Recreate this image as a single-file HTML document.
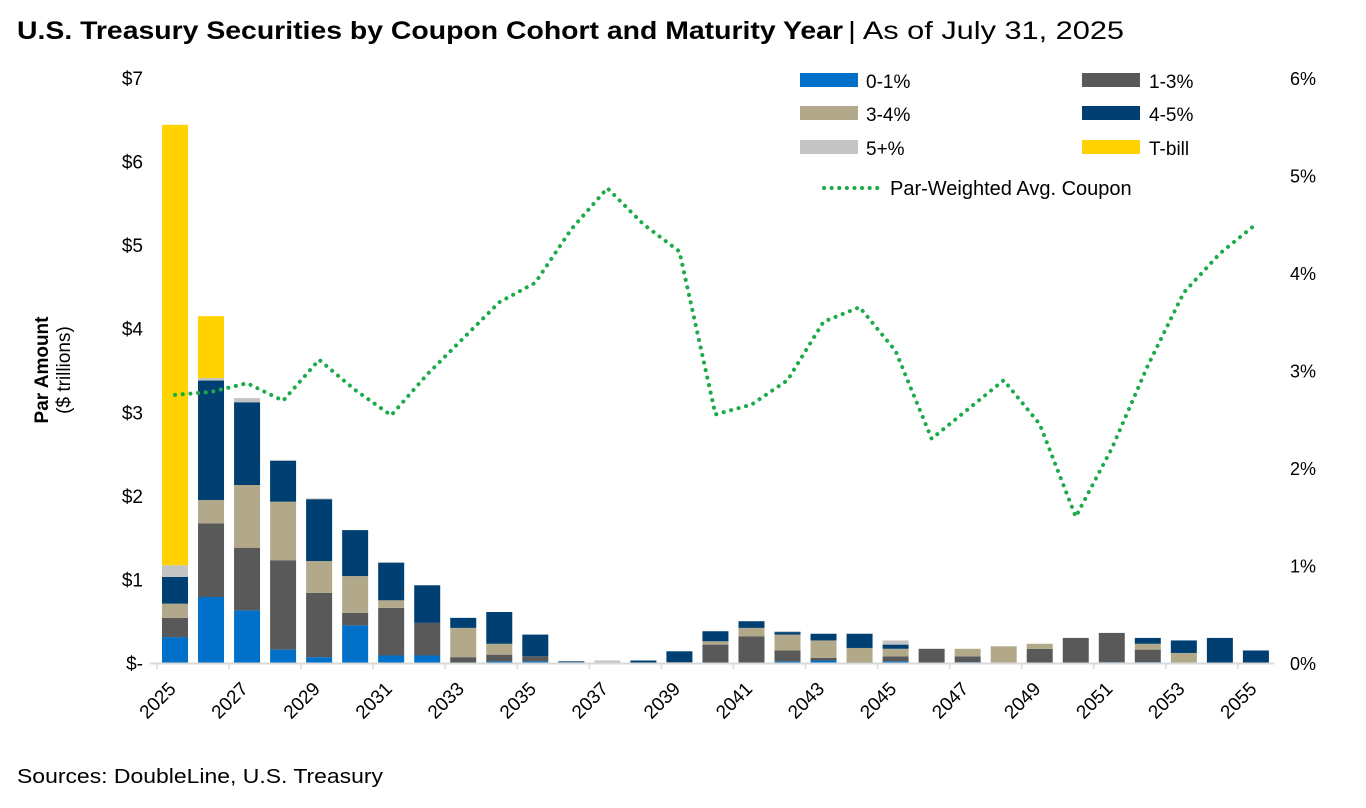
<!DOCTYPE html>
<html><head><meta charset="utf-8"><style>
body{margin:0;background:#fff;}
svg{display:block;font-family:"Liberation Sans",sans-serif;}
</style></head><body>
<svg id="chart" width="1366" height="808" viewBox="0 0 1366 808">
<text x="17" y="39" font-size="25" font-weight="bold" textLength="826" lengthAdjust="spacingAndGlyphs">U.S. Treasury Securities by Coupon Cohort and Maturity Year</text>
<text x="848" y="39" font-size="25" textLength="276" lengthAdjust="spacingAndGlyphs">| As of July 31, 2025</text>
<text x="17" y="783" font-size="20" textLength="366" lengthAdjust="spacingAndGlyphs">Sources: DoubleLine, U.S. Treasury</text>
<g transform="translate(48,370) rotate(-90)">
<text x="0" y="0" font-size="19" font-weight="bold" text-anchor="middle">Par Amount</text>
<text x="0" y="22" font-size="19" text-anchor="middle">($ trillions)</text>
</g>
<g id="bars"></g>
<g id="axes"></g>
<g id="line"></g>
<g id="legend">
<rect x="800" y="73" width="58" height="14" fill="#0070C8"/>
<text x="866" y="88" font-size="19">0-1%</text>
<rect x="1082" y="73" width="58" height="14" fill="#595959"/>
<text x="1149" y="88" font-size="19">1-3%</text>
<rect x="800" y="106" width="58" height="14" fill="#B2A98B"/>
<text x="866" y="121" font-size="19">3-4%</text>
<rect x="1082" y="106" width="58" height="14" fill="#003F72"/>
<text x="1149" y="121" font-size="19">4-5%</text>
<rect x="800" y="140" width="58" height="14" fill="#C4C4C4"/>
<text x="866" y="155" font-size="19">5+%</text>
<rect x="1082" y="140" width="58" height="14" fill="#FFD200"/>
<text x="1149" y="155" font-size="19">T-bill</text>
<line x1="824" y1="188" x2="882" y2="188" stroke="#1DAA4A" stroke-width="4" stroke-dasharray="0.1 7.5" stroke-linecap="round"/>
<text x="890" y="195" font-size="20">Par-Weighted Avg. Coupon</text>
</g>
</svg>
<script>
const years = [2025,2026,2027,2028,2029,2030,2031,2032,2033,2034,2035,2036,2037,2038,2039,2040,2041,2042,2043,2044,2045,2046,2047,2048,2049,2050,2051,2052,2053,2054,2055];
const c01 = [0.31,0.79,0.63,0.16,0.07,0.45,0.09,0.09,0,0.02,0.02,0,0,0,0,0,0,0.02,0.03,0,0.02,0,0.01,0,0,0,0.01,0.01,0,0,0];
const c13 = [0.23,0.88,0.75,1.07,0.77,0.15,0.57,0.39,0.07,0.08,0.06,0.01,0,0,0.01,0.22,0.32,0.13,0.03,0.01,0.06,0.17,0.07,0,0.17,0.30,0.35,0.15,0,0,0];
const c34 = [0.17,0.28,0.75,0.70,0.38,0.44,0.09,0,0.35,0.13,0,0,0,0,0,0.04,0.10,0.19,0.21,0.17,0.09,0,0.09,0.20,0.06,0,0,0.07,0.12,0,0];
const c45 = [0.32,1.43,0.99,0.49,0.74,0.55,0.45,0.45,0.12,0.38,0.26,0.01,0,0.03,0.13,0.12,0.08,0.03,0.08,0.17,0.05,0,0,0,0,0,0,0.07,0.15,0.30,0.15];
const c5p = [0.14,0.03,0.05,0.01,0.01,0,0.01,0,0,0,0,0,0.03,0,0,0,0,0.01,0,0,0.05,0,0,0,0,0,0,0,0,0,0];
const tbill = [5.27,0.74,0,0,0,0,0,0,0,0,0,0,0,0,0,0,0,0,0,0,0,0,0,0,0,0,0,0,0,0,0];
const coupon = [2.75,2.78,2.87,2.69,3.11,2.80,2.54,2.96,3.33,3.70,3.90,4.45,4.87,4.50,4.22,2.55,2.65,2.90,3.50,3.65,3.20,2.30,2.60,2.90,2.45,1.50,2.20,3.05,3.80,4.20,4.50];
const leftTicks = ['$-','$1','$2','$3','$4','$5','$6','$7'];
const rightTicks = ['0%','1%','2%','3%','4%','5%','6%'];

const NS='http://www.w3.org/2000/svg';
const y0=663, yTop=78, x0=175, step=36.03, bw=26;
const yL = v => y0 - v/7*(y0-yTop);
const yR = v => y0 - v/6*(y0-yTop);
const xC = i => x0 + i*step;
function mk(tag, attrs, parent){const e=document.createElementNS(NS,tag);for(const k in attrs)e.setAttribute(k,attrs[k]);parent.appendChild(e);return e;}
const bars=document.getElementById('bars'), axes=document.getElementById('axes'), line=document.getElementById('line');
const series=[[c01,'#0070C8','0-1'],[c13,'#595959','1-3'],[c34,'#B2A98B','3-4'],[c45,'#003F72','4-5'],[c5p,'#C4C4C4','5plus'],[tbill,'#FFD200','tbill']];
years.forEach((yr,i)=>{
  let cum=0;
  series.forEach(([arr,col,nm])=>{
    const v=arr[i]; if(v<=0) return;
    const r=mk('rect',{x:xC(i)-bw/2,y:yL(cum+v),width:bw,height:yL(cum)-yL(cum+v),fill:col},bars);
    
    
    cum+=v;
  });
});
const base=mk('line',{x1:150,y1:y0+0.5,x2:1274,y2:y0+0.5,stroke:'#D9D9D9','stroke-width':2},axes);


for(let i=0;i<=years.length;i+=2){
  const tx=xC(i)-step/2;
  const t=mk('line',{x1:tx,y1:y0,x2:tx,y2:y0+6,stroke:'#D9D9D9','stroke-width':1.5},axes);
  
  
}
years.forEach((yr,i)=>{
  if(i%2) return;
  const x=xC(i)+2, y=y0+27;
  const t=mk('text',{x:x,y:y,'font-size':19,'text-anchor':'end',transform:`rotate(-45 ${x} ${y})`},axes);
  t.textContent=yr;
  
  
});
leftTicks.forEach((lb,i)=>{
  const t=mk('text',{x:143,y:yL(i)+7,'font-size':19,'text-anchor':'end'},axes);
  t.textContent=lb;
  
  
});
rightTicks.forEach((lb,i)=>{
  const t=mk('text',{x:1290,y:yR(i)+7,'font-size':18},axes);
  t.textContent=lb;
  
  
});
const pts=coupon.map((v,i)=>xC(i)+','+yR(v)).join(' ');
const pl=mk('polyline',{points:pts,fill:'none',stroke:'#1DAA4A','stroke-width':4,'stroke-dasharray':'0.1 7.6','stroke-linecap':'round','stroke-linejoin':'round'},line);


</script>
</body></html>
